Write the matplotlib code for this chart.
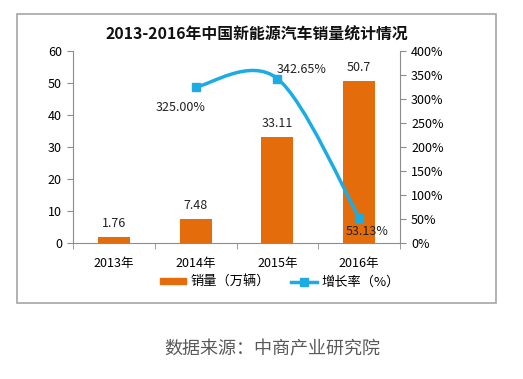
import numpy as np
import matplotlib
matplotlib.use("Agg")
import matplotlib.pyplot as plt
from matplotlib.path import Path
from matplotlib.patches import PathPatch, Rectangle, Patch
from matplotlib.lines import Line2D

plt.rcParams['font.family'] = ['Noto Sans CJK SC', 'DejaVu Sans']

years = ['2013年', '2014年', '2015年', '2016年']
sales = [1.76, 7.48, 33.11, 50.7]
growth_years = [1, 2, 3]          # index of 2014, 2015, 2016
growth = [325.00, 342.65, 53.13]
growth_labels = ['325.00%', '342.65%', '53.13%']

orange = '#E46C0A'
blue = '#1CACE3'
axis_gray = '#8C8C8C'

fig = plt.figure(figsize=(5.23, 3.79), dpi=100)
fig.patches.append(Rectangle((0.0325, 0.2005), 0.9159, 0.7625, transform=fig.transFigure,
                             fill=False, edgecolor='#A6A6A6', linewidth=1.2))

ax = fig.add_axes([0.1396, 0.3588, 0.6252, 0.5066])
x = np.arange(len(years))
ax.bar(x, sales, width=0.39, color=orange, zorder=2)
ax.set_xlim(-0.5, 3.5)
ax.set_ylim(0, 60)
ax.set_yticks(range(0, 61, 10))
ax.set_xticks(x)
ax.set_xticklabels(years, fontsize=9)
ax.set_xticks([-0.5, 0.5, 1.5, 2.5, 3.5], minor=True)
ax.tick_params(axis='x', which='major', length=0, pad=10)
ax.tick_params(axis='x', which='minor', length=4, color=axis_gray, direction='out')
ax.tick_params(axis='y', length=4, color=axis_gray, labelsize=9, pad=4)
for s in ['top', 'right']:
    ax.spines[s].set_visible(False)
for s in ['left', 'bottom']:
    ax.spines[s].set_color(axis_gray)

for xi, v in zip(x, sales):
    ax.text(xi, v + 4.3, f'{v:g}', ha='center', va='center', fontsize=9, color='#222222')

ax2 = ax.twinx()
ax2.set_ylim(0, 400)
ax2.set_yticks(range(0, 401, 50))
ax2.set_yticklabels([f'{t}%' for t in range(0, 401, 50)])
ax2.tick_params(axis='y', length=4, color=axis_gray, labelsize=9, pad=4)
for s in ['top', 'left', 'bottom']:
    ax2.spines[s].set_visible(False)
ax2.spines['right'].set_color(axis_gray)

# smoothed line (Catmull-Rom style Bezier through data points)
pts = np.column_stack([growth_years, growth]).astype(float)
verts = [pts[0]]
codes = [Path.MOVETO]
n = len(pts)
for i in range(n - 1):
    p0 = pts[i - 1] if i > 0 else pts[i]
    p1 = pts[i]
    p2 = pts[i + 1]
    p3 = pts[i + 2] if i + 2 < n else pts[i + 1]
    verts += [p1 + (p2 - p0) / 6, p2 - (p3 - p1) / 6, p2]
    codes += [Path.CURVE4] * 3
ax2.add_patch(PathPatch(Path(verts, codes), fill=False, edgecolor=blue, linewidth=2.5, zorder=3))
ax2.plot(growth_years, growth, linestyle='none', marker='s', markersize=6, color=blue, zorder=4)

offsets = [(-0.18, -42), (0.29, 18), (0.1, -30)]
for xi, v, lab, (dx, dy) in zip(growth_years, growth, growth_labels, offsets):
    ax2.text(xi + dx, v + dy, lab, ha='center', va='center', fontsize=9, color='#222222')

fig.text(0.492, 0.91, '2013-2016年中国新能源汽车销量统计情况', ha='center', va='center',
         fontsize=11.4, fontweight='bold', color='#111111')

handles = [Patch(color=orange), Line2D([], [], color=blue, linewidth=2.5, marker='s', markersize=6)]
fig.legend(handles, ['销量（万辆）', '增长率（%）'], loc='center', bbox_to_anchor=(0.535, 0.255),
           ncol=2, frameon=False, fontsize=9.5, handlelength=2.0, handleheight=0.35,
           columnspacing=1.6, handletextpad=0.3)

fig.text(0.52, 0.079, '数据来源：中商产业研究院', ha='center', va='center', fontsize=13, color='#595959')

fig.savefig('out.png', dpi=100)
